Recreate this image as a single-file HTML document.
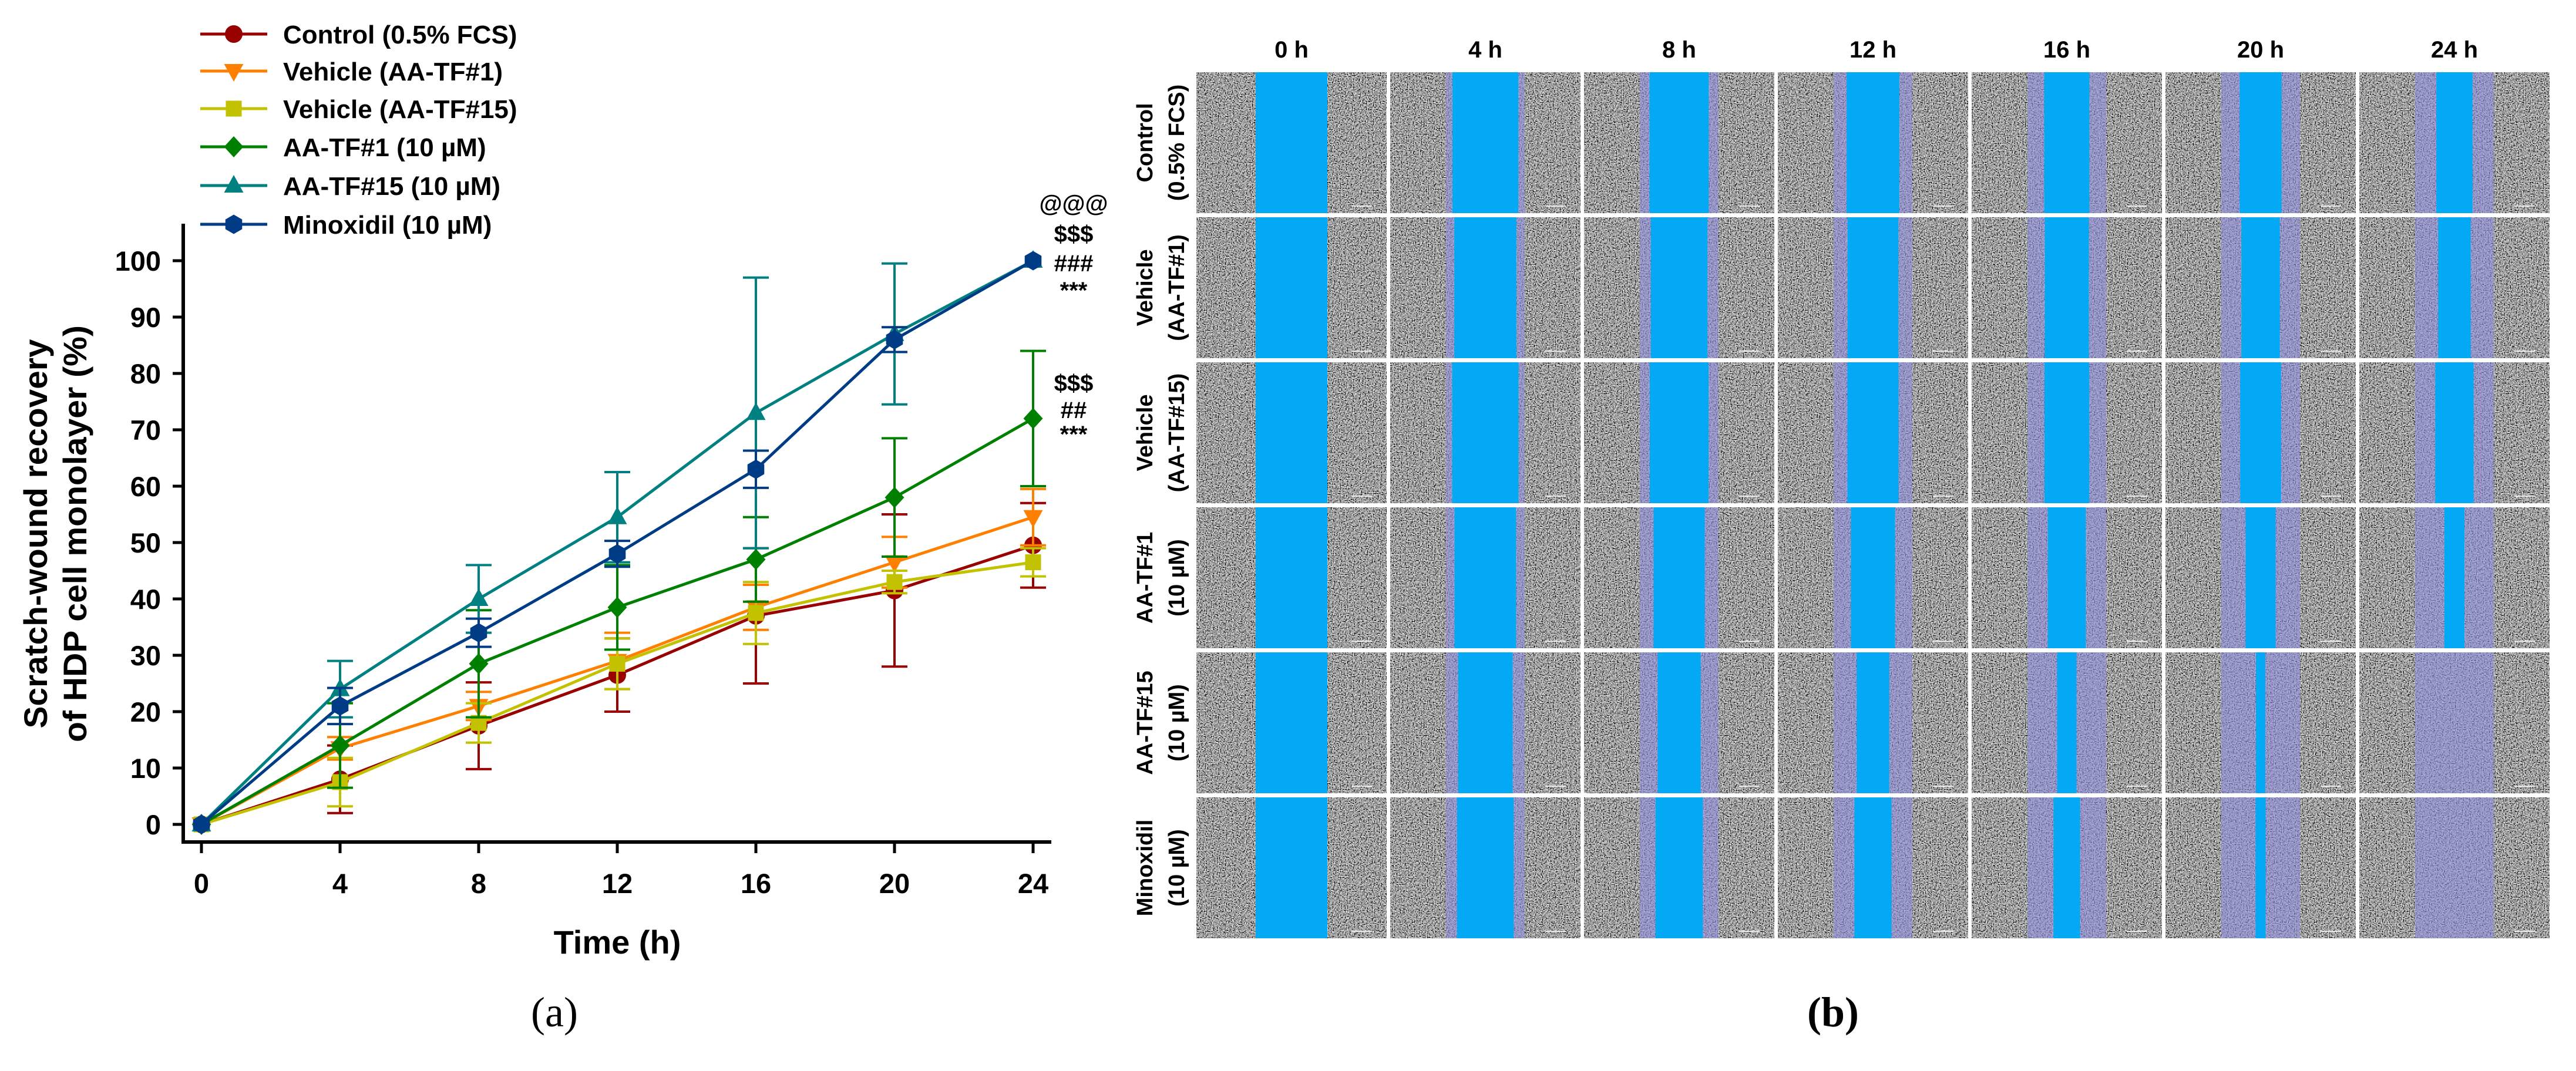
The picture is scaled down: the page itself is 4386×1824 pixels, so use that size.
<!DOCTYPE html>
<html><head><meta charset="utf-8"><style>
html,body{margin:0;padding:0;background:#fff}
svg{display:block}
text{font-family:"Liberation Sans",sans-serif;font-weight:bold;fill:#000}
</style></head><body>
<svg id="fig" width="4386" height="1824" viewBox="0 0 4386 1824" xmlns="http://www.w3.org/2000/svg">
<defs>
<filter id="noise" x="0" y="0" width="100%" height="100%">
<feTurbulence type="fractalNoise" baseFrequency="0.5" numOctaves="2" seed="3"/>
<feColorMatrix type="matrix" values="0.33 0.33 0.33 0 0  0.33 0.33 0.33 0 0  0.33 0.33 0.33 0 0  0 0 0 0 1"/>
<feComponentTransfer><feFuncR type="linear" slope="3.2" intercept="-1.22"/><feFuncG type="linear" slope="3.2" intercept="-1.22"/><feFuncB type="linear" slope="3.2" intercept="-1.22"/></feComponentTransfer>
</filter>
</defs>
<rect width="4386" height="1824" fill="#fff"/>
<g id="chart"></g>
<g id="panel"></g>
<text x="944" y="1748" font-size="72" text-anchor="middle" style="font-family:'Liberation Serif',serif;font-weight:normal">(a)</text>
<text x="3121" y="1748" font-size="72" text-anchor="middle" style="font-family:'Liberation Serif',serif;font-weight:bold">(b)</text>
</svg>
<script>
const times = [0, 4, 8, 12, 16, 20, 24];
const yTicks = [0, 10, 20, 30, 40, 50, 60, 70, 80, 90, 100];
const seriesNames = ["Control (0.5% FCS)", "Vehicle (AA-TF#1)", "Vehicle (AA-TF#15)", "AA-TF#1 (10 \u00b5M)", "AA-TF#15 (10 \u00b5M)", "Minoxidil (10 \u00b5M)"];
const controlVals = [0, 8, 17.5, 26.5, 37, 41.5, 49.5];
const controlErr = [0, 6, 7.7, 6.5, 12, 13.5, 7.5];
const vehicle1Vals = [0, 13.5, 21, 29, 38.5, 46.5, 54.5];
const vehicle1Err = [0, 2, 2.5, 5, 4, 4.5, 5];
const vehicle15Vals = [0, 7.5, 18, 28.5, 37.5, 43, 46.5];
const vehicle15Err = [0, 4.3, 3.5, 4.5, 5.5, 2, 2.5];
const tf1Vals = [0, 14, 28.5, 38.5, 47, 58, 72];
const tf1Err = [0, 7.5, 9.5, 7.5, 7.5, 10.5, 12];
const tf15Vals = [0, 24, 40, 54.5, 73, 87, 100];
const tf15Err = [0, 5, 6, 8, 24, 12.5, 0];
const minoxVals = [0, 21, 34, 48, 63, 86, 100];
const minoxErr = [0, 3.2, 2.5, 2.3, 3.3, 2.2, 0];
const timeLabels = ["0 h", "4 h", "8 h", "12 h", "16 h", "20 h", "24 h"];
const rowLabels1 = ["Control", "Vehicle", "Vehicle", "AA-TF#1", "AA-TF#15", "Minoxidil"];
const rowLabels2 = ["(0.5% FCS)", "(AA-TF#1)", "(AA-TF#15)", "(10 \u00b5M)", "(10 \u00b5M)", "(10 \u00b5M)"];

const NS = "http://www.w3.org/2000/svg";
function mk(tag, attrs, parent){const e=document.createElementNS(NS,tag);for(const k in attrs)e.setAttribute(k,attrs[k]);parent.appendChild(e);return e;}
const X = t => 343 + (t/4)*236;
const Y = v => 1404 - v*9.6;
const chart = document.getElementById('chart');
const colors = ["#990000","#ff8000","#c2c200","#008000","#008080","#003c86"];
const markers = ["circle","tri-down","square","diamond","tri-up","hex"];
const allVals = [controlVals, vehicle1Vals, vehicle15Vals, tf1Vals, tf15Vals, minoxVals];
const allErr = [controlErr, vehicle1Err, vehicle15Err, tf1Err, tf15Err, minoxErr];

function marker(type, cx, cy, r, col, parent){
  let el;
  if(type==="circle") el=mk('circle',{cx,cy,r:r,fill:col},parent);
  else if(type==="square") el=mk('rect',{x:cx-r*0.9,y:cy-r*0.9,width:r*1.8,height:r*1.8,fill:col},parent);
  else if(type==="diamond") el=mk('polygon',{points:`${cx},${cy-r*1.2} ${cx+r*1.1},${cy} ${cx},${cy+r*1.2} ${cx-r*1.1},${cy}`,fill:col},parent);
  else if(type==="tri-up") el=mk('polygon',{points:`${cx},${cy-r*1.2} ${cx+r*1.1},${cy+r*0.8} ${cx-r*1.1},${cy+r*0.8}`,fill:col},parent);
  else if(type==="tri-down") el=mk('polygon',{points:`${cx},${cy+r*1.2} ${cx+r*1.1},${cy-r*0.8} ${cx-r*1.1},${cy-r*0.8}`,fill:col},parent);
  else { let p=[];for(let i=0;i<6;i++){const a=Math.PI/6+i*Math.PI/3;p.push((cx+r*1.1*Math.cos(a))+","+(cy+r*1.1*Math.sin(a)));} el=mk('polygon',{points:p.join(' '),fill:col},parent);}
  return el;
}

const yAxis = mk('line',{x1:312,y1:381,x2:312,y2:1434,stroke:"#000","stroke-width":6},chart);


const xAxis = mk('line',{x1:309,y1:1434,x2:1790,y2:1434,stroke:"#000","stroke-width":6},chart);


yTicks.forEach(v=>{
  const t=mk('line',{x1:294,y1:Y(v),x2:312,y2:Y(v),stroke:"#000","stroke-width":5},chart);
  
  
  const l=mk('text',{x:274,y:Y(v)+17,"font-size":47,"text-anchor":"end"},chart);
  l.textContent=v;
  
  
});
times.forEach(t=>{
  const k=mk('line',{x1:X(t),y1:1434,x2:X(t),y2:1453,stroke:"#000","stroke-width":5},chart);
  
  
  const l=mk('text',{x:X(t),y:1521,"font-size":47,"text-anchor":"middle"},chart);
  l.textContent=t;
  
  
});
const xt=mk('text',{x:1051,y:1624,"font-size":56,"text-anchor":"middle"},chart);
xt.textContent="Time (h)";


const yt1=mk('text',{x:0,y:0,"font-size":56,"text-anchor":"middle",transform:"translate(80,909) rotate(-90)",textLength:663,lengthAdjust:"spacingAndGlyphs"},chart);
yt1.textContent="Scratch-wound recovery";


const yt2=mk('text',{x:0,y:0,"font-size":56,"text-anchor":"middle",transform:"translate(147,909) rotate(-90)",textLength:710,lengthAdjust:"spacingAndGlyphs"},chart);
yt2.textContent="of HDP cell monolayer (%)";



allVals.forEach((vals,si)=>{
  const g=mk('g',{},chart);
  
  
  const col=colors[si];
  vals.forEach((v,i)=>{
    const e=allErr[si][i]; if(!e) return;
    const x=X(times[i]);
    const eb=mk('path',{d:`M${x},${Y(v+e)}V${Y(v-e)}M${x-22},${Y(v+e)}h44M${x-22},${Y(v-e)}h44`,stroke:col,"stroke-width":4,fill:"none"},g);
    
    
  });
  const ln=mk('polyline',{points:vals.map((v,i)=>X(times[i])+","+Y(v)).join(' '),stroke:col,"stroke-width":5,fill:"none"},g);
  
  
  vals.forEach((v,i)=>{
    const m=marker(markers[si],X(times[i]),Y(v),15,col,g);
    
    
  });
});

const legY=[58,121,185,250,316,382];
seriesNames.forEach((n,i)=>{
  const g=mk('g',{},chart);
  
  
  mk('line',{x1:341,y1:legY[i],x2:455,y2:legY[i],stroke:colors[i],"stroke-width":5},g);
  marker(markers[i],398,legY[i],15,colors[i],g);
  const t=mk('text',{x:482,y:legY[i]+16,"font-size":44},g);
  t.textContent=n;
});

const ann1=["@@@","$$$","###","***"], ann1y=[346,398,448,494];
ann1.forEach((s,i)=>{const t=mk('text',{x:1828,y:ann1y[i]+14,"font-size":40,"text-anchor":"middle"},chart);t.textContent=s;

});
const ann2=["$$$","##","***"], ann2y=[652,698,739];
ann2.forEach((s,i)=>{const t=mk('text',{x:1828,y:ann2y[i]+14,"font-size":40,"text-anchor":"middle"},chart);t.textContent=s;

});

const panel=document.getElementById('panel');
const colX=[2037,2367,2697,3027,3357,3687,4017], colW=324;
const rowY=[123,370,617,864,1111,1358], rowH=240;
const nb=mk('rect',{x:2037,y:123,width:2304,height:1475,fill:"#888",filter:"url(#noise)"},panel);


colX.slice(1).forEach(x=>{mk('rect',{x:x-6,y:118,width:6,height:1485,fill:"#fff"},panel);});
rowY.slice(1).forEach(y=>{mk('rect',{x:2030,y:y-7,width:2320,height:7,fill:"#fff"},panel);});
const gap=122;
allVals.forEach((vals,ri)=>{
  vals.forEach((v,ci)=>{
    const cx=colX[ci]+colW/2;
    const g=mk('g',{},panel);
    
    
    if(ci>0) mk('rect',{x:cx-gap/2-6,y:rowY[ri],width:gap+12,height:rowH,fill:"#8f8fe0","fill-opacity":0.6},g);
    const bw=gap*(1-v/100);
    if(bw>2) mk('rect',{x:cx-bw/2,y:rowY[ri],width:bw,height:rowH,fill:"#03a9f4"},g);
    mk('line',{x1:colX[ci]+colW-60,y1:rowY[ri]+rowH-12,x2:colX[ci]+colW-25,y2:rowY[ri]+rowH-12,stroke:"#eee","stroke-width":2},g);
  });
});
timeLabels.forEach((s,i)=>{const t=mk('text',{x:colX[i]+colW/2,y:98,"font-size":40,"text-anchor":"middle"},panel);t.textContent=s;

});
rowLabels1.forEach((s,i)=>{
  const cy=rowY[i]+rowH/2;
  const t1=mk('text',{x:0,y:0,"font-size":38,"text-anchor":"middle",transform:`translate(1962,${cy}) rotate(-90)`},panel);t1.textContent=s;
  
  
  const t2=mk('text',{x:0,y:0,"font-size":38,"text-anchor":"middle",transform:`translate(2016,${cy}) rotate(-90)`},panel);t2.textContent=rowLabels2[i];
  
  
});
</script>
</body></html>
